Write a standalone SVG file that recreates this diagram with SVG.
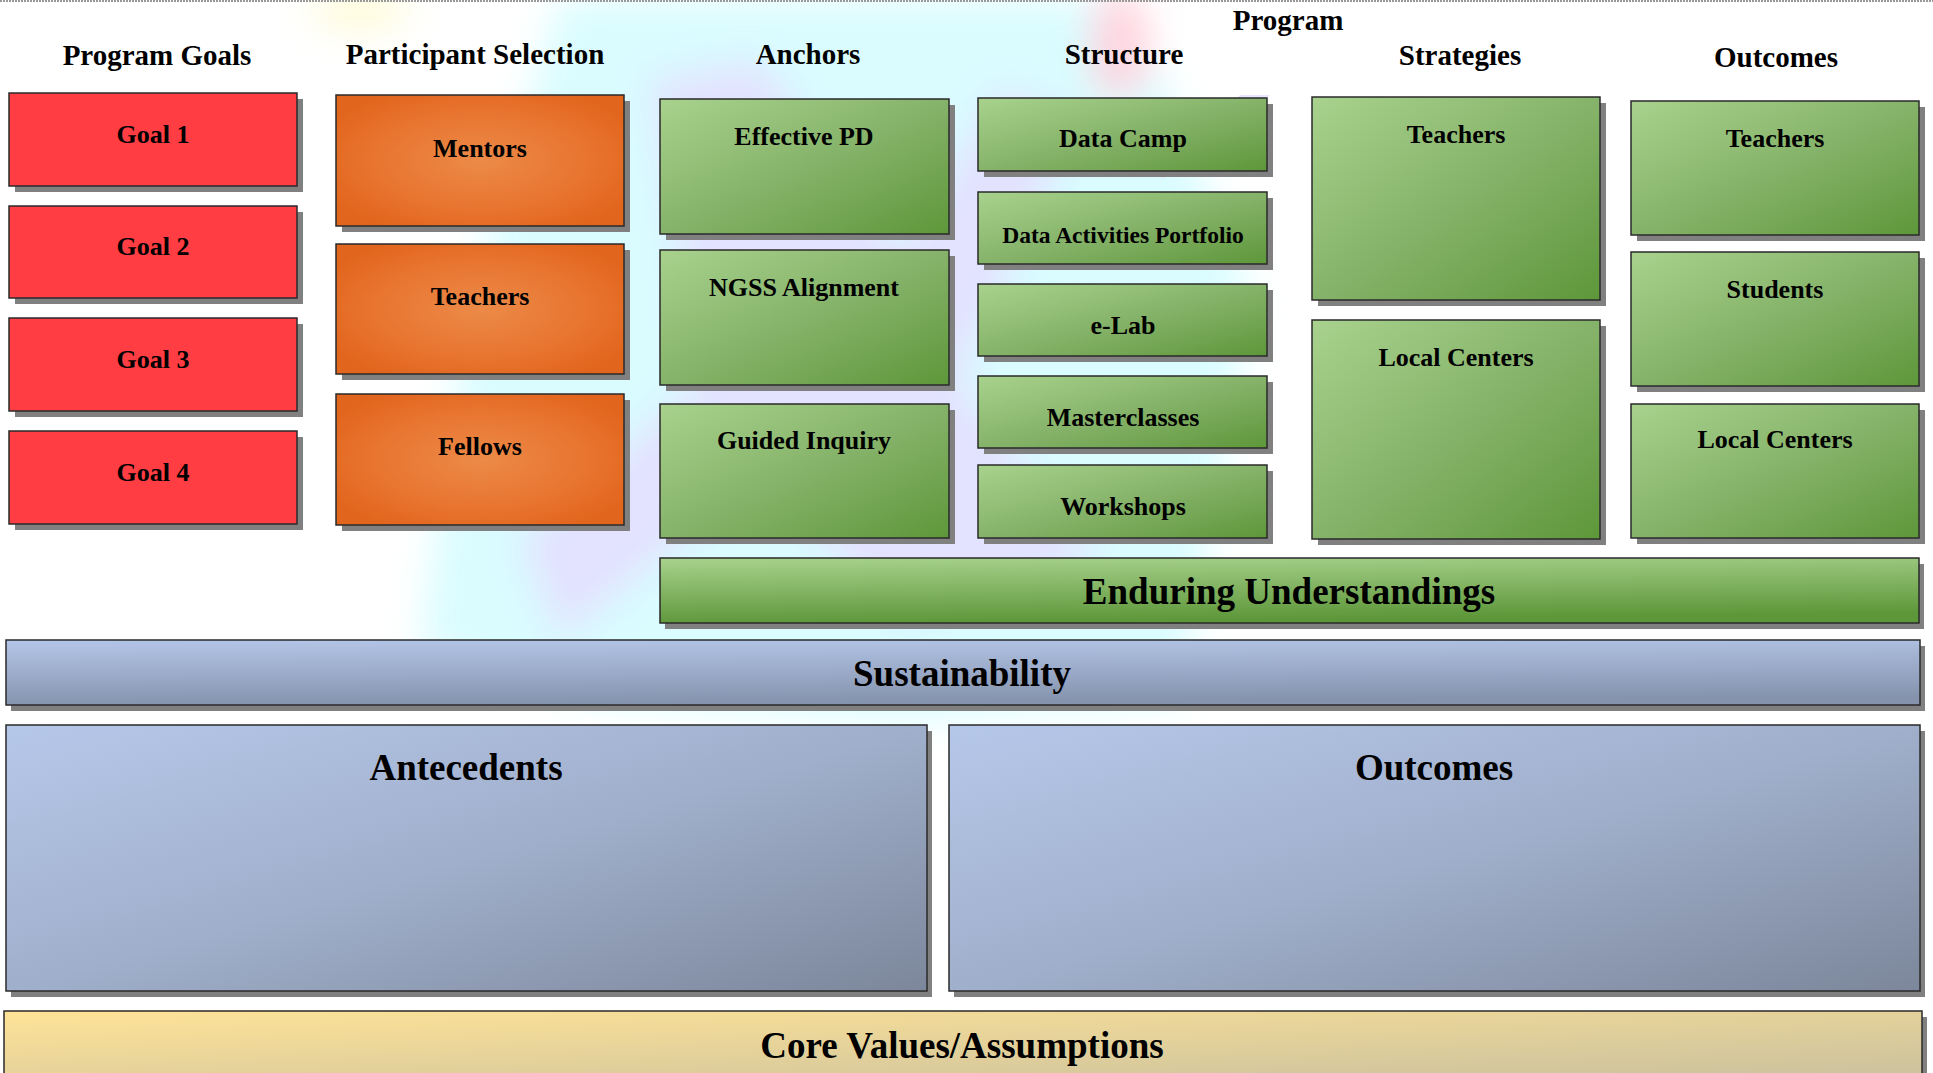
<svg xmlns="http://www.w3.org/2000/svg" width="1933" height="1073" viewBox="0 0 1933 1073">
<defs>
<linearGradient id="gGreen" x1="0" y1="0" x2="1" y2="1">
<stop offset="0" stop-color="#A8D28D"/><stop offset="0.5" stop-color="#86B36A"/><stop offset="1" stop-color="#5E973A"/>
</linearGradient>
<radialGradient id="gOrange" cx="0.5" cy="0.5" r="0.6">
<stop offset="0" stop-color="#EC8A48"/><stop offset="0.6" stop-color="#E87530"/><stop offset="1" stop-color="#E2651D"/>
</radialGradient>
<linearGradient id="gBlue" x1="0" y1="0" x2="1" y2="1">
<stop offset="0" stop-color="#B6C8EA"/><stop offset="0.5" stop-color="#A0AFCB"/><stop offset="1" stop-color="#7C879B"/>
</linearGradient>
<linearGradient id="gBlueBar" x1="0" y1="0" x2="0.15" y2="1">
<stop offset="0" stop-color="#B4C6E8"/><stop offset="1" stop-color="#8593AD"/>
</linearGradient>
<linearGradient id="gGreenBar" x1="0" y1="0" x2="0.2" y2="1">
<stop offset="0" stop-color="#A8D28D"/><stop offset="1" stop-color="#5E973A"/>
</linearGradient>
<linearGradient id="gYellow" x1="0" y1="0" x2="1" y2="1">
<stop offset="0" stop-color="#FFE397"/><stop offset="1" stop-color="#C9C09E"/>
</linearGradient>
<filter id="blur" x="-50%" y="-50%" width="200%" height="200%"><feGaussianBlur stdDeviation="18"/></filter>
<style>
text{font-family:"Liberation Serif","Times New Roman",serif;font-weight:bold;fill:#000;text-anchor:middle}
.h{font-size:29px}
.t{font-size:26px}
.big{font-size:37px}
.box{stroke:#2a2a2a;stroke-width:1.5}
.sh{fill:#808080}
.red{fill:#FF3D42}
.org{fill:url(#gOrange)}
.grn{fill:url(#gGreen)}
.blu{fill:url(#gBlue)}
</style>
</defs>
<rect width="1933" height="1073" fill="#FFFFFF"/>
<g id="background" opacity="0.9">
<g filter="url(#blur)">
<polygon points="560,0 1130,0 1250,300 1180,700 900,720 600,700 420,650 470,300" fill="#D6FCFF"/>
<polygon points="650,80 760,60 900,250 1000,90 1080,120 960,380 1100,560 900,620 760,480 560,640 520,540 700,380" fill="#E0E0FF"/>
<ellipse cx="1120" cy="45" rx="30" ry="55" fill="#FFD0DC"/>
<ellipse cx="360" cy="10" rx="50" ry="18" fill="#FFFAD0"/>
</g>
<polygon points="1240,95 1270,95 1200,160 1160,180" fill="#E4E4FF"/>
</g>
<line x1="0" y1="1" x2="1933" y2="1" stroke="#999" stroke-width="2" stroke-dasharray="2,1"/>
<g id="headings">
<text class="h" x="157" y="65">Program Goals</text>
<text class="h" x="475" y="64">Participant Selection</text>
<text class="h" x="808" y="64">Anchors</text>
<text class="h" x="1124" y="64">Structure</text>
<text class="h" x="1288" y="30">Program</text>
<text class="h" x="1460" y="65">Strategies</text>
<text class="h" x="1776" y="67">Outcomes</text>
</g>
<g id="goal1"><rect class="sh" x="15" y="99" width="288" height="93"/><rect class="box red" x="9" y="93" width="288" height="93"/><text class="t" x="153" y="143">Goal 1</text></g>
<g id="goal2"><rect class="sh" x="15" y="212" width="288" height="92"/><rect class="box red" x="9" y="206" width="288" height="92"/><text class="t" x="153" y="255">Goal 2</text></g>
<g id="goal3"><rect class="sh" x="15" y="324" width="288" height="93"/><rect class="box red" x="9" y="318" width="288" height="93"/><text class="t" x="153" y="368">Goal 3</text></g>
<g id="goal4"><rect class="sh" x="15" y="437" width="288" height="93"/><rect class="box red" x="9" y="431" width="288" height="93"/><text class="t" x="153" y="481">Goal 4</text></g>
<g id="mentors"><rect class="sh" x="342" y="101" width="288" height="131"/><rect class="box org" x="336" y="95" width="288" height="131"/><text class="t" x="480" y="157">Mentors</text></g>
<g id="teachers-sel"><rect class="sh" x="342" y="250" width="288" height="130"/><rect class="box org" x="336" y="244" width="288" height="130"/><text class="t" x="480" y="305">Teachers</text></g>
<g id="fellows"><rect class="sh" x="342" y="400" width="288" height="131"/><rect class="box org" x="336" y="394" width="288" height="131"/><text class="t" x="480" y="455">Fellows</text></g>
<g id="effective-pd"><rect class="sh" x="666" y="105" width="289" height="135"/><rect class="box grn" x="660" y="99" width="289" height="135"/><text class="t" x="804" y="145">Effective PD</text></g>
<g id="ngss"><rect class="sh" x="666" y="256" width="289" height="135"/><rect class="box grn" x="660" y="250" width="289" height="135"/><text class="t" x="804" y="296">NGSS Alignment</text></g>
<g id="guided-inquiry"><rect class="sh" x="666" y="410" width="289" height="134"/><rect class="box grn" x="660" y="404" width="289" height="134"/><text class="t" x="804" y="449">Guided Inquiry</text></g>
<g id="data-camp"><rect class="sh" x="984" y="104" width="289" height="73"/><rect class="box grn" x="978" y="98" width="289" height="73"/><text class="t" x="1123" y="147">Data Camp</text></g>
<g id="data-portfolio"><rect class="sh" x="984" y="198" width="289" height="72"/><rect class="box grn" x="978" y="192" width="289" height="72"/><text x="1123" y="243" style="font-size:23.5px">Data Activities Portfolio</text></g>
<g id="elab"><rect class="sh" x="984" y="290" width="289" height="72"/><rect class="box grn" x="978" y="284" width="289" height="72"/><text class="t" x="1123" y="334">e-Lab</text></g>
<g id="masterclasses"><rect class="sh" x="984" y="382" width="289" height="72"/><rect class="box grn" x="978" y="376" width="289" height="72"/><text class="t" x="1123" y="426">Masterclasses</text></g>
<g id="workshops"><rect class="sh" x="984" y="471" width="289" height="73"/><rect class="box grn" x="978" y="465" width="289" height="73"/><text class="t" x="1123" y="515">Workshops</text></g>
<g id="strat-teachers"><rect class="sh" x="1318" y="103" width="288" height="203"/><rect class="box grn" x="1312" y="97" width="288" height="203"/><text class="t" x="1456" y="143">Teachers</text></g>
<g id="strat-local"><rect class="sh" x="1318" y="326" width="288" height="219"/><rect class="box grn" x="1312" y="320" width="288" height="219"/><text class="t" x="1456" y="366">Local Centers</text></g>
<g id="out-teachers"><rect class="sh" x="1637" y="107" width="288" height="134"/><rect class="box grn" x="1631" y="101" width="288" height="134"/><text class="t" x="1775" y="147">Teachers</text></g>
<g id="out-students"><rect class="sh" x="1637" y="258" width="288" height="134"/><rect class="box grn" x="1631" y="252" width="288" height="134"/><text class="t" x="1775" y="298">Students</text></g>
<g id="out-local"><rect class="sh" x="1637" y="410" width="288" height="134"/><rect class="box grn" x="1631" y="404" width="288" height="134"/><text class="t" x="1775" y="448">Local Centers</text></g>
<g id="enduring"><rect class="sh" x="665" y="564" width="1259" height="65"/><rect class="box" fill="url(#gGreenBar)" x="660" y="558" width="1259" height="65"/><text class="big" x="1289" y="604">Enduring Understandings</text></g>
<g id="sustainability"><rect class="sh" x="11" y="646" width="1914" height="65"/><rect class="box" fill="url(#gBlueBar)" x="6" y="640" width="1914" height="65"/><text class="big" x="962" y="686">Sustainability</text></g>
<g id="antecedents"><rect class="sh" x="11" y="731" width="921" height="266"/><rect class="box blu" x="6" y="725" width="921" height="266"/><text class="big" x="466" y="780">Antecedents</text></g>
<g id="outcomes-main"><rect class="sh" x="954" y="731" width="971" height="266"/><rect class="box blu" x="949" y="725" width="971" height="266"/><text class="big" x="1434" y="780">Outcomes</text></g>
<g id="core-values"><rect class="sh" x="9" y="1017" width="1918" height="70"/><rect class="box" fill="url(#gYellow)" x="4" y="1011" width="1918" height="70"/><text class="big" x="962" y="1058">Core Values/Assumptions</text></g>
<g id="connectors"></g>
</svg>
